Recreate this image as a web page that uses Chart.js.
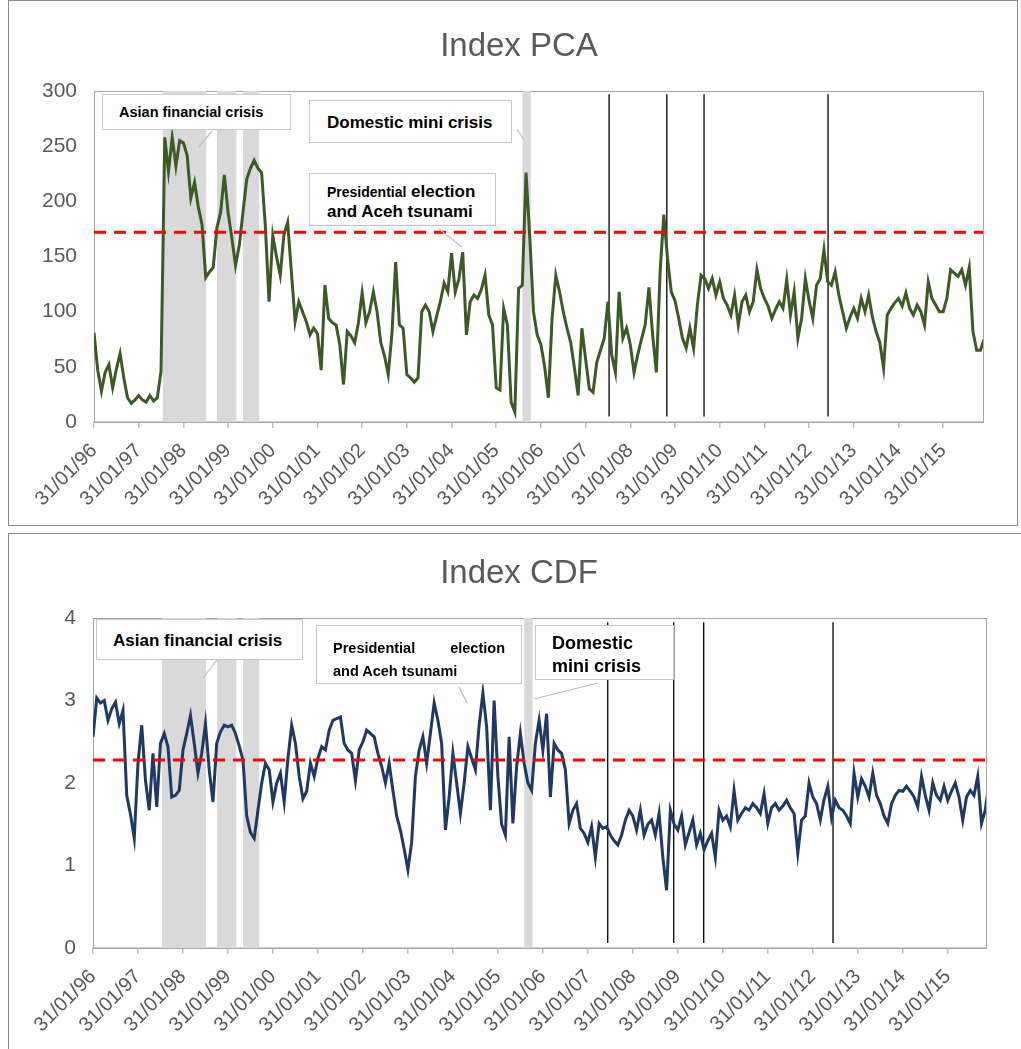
<!DOCTYPE html>
<html>
<head>
<meta charset="utf-8">
<script src="https://cdn.jsdelivr.net/npm/chart.js@4.4.1/dist/chart.umd.min.js"></script>
<style>
  body { margin: 0; background: #fff; font-family: "Liberation Sans", Arial, sans-serif; }
  #page { position: relative; width: 1021px; height: 1049px; overflow: hidden; }
  .panel { position: absolute; border: 1px solid #8c8c8c; box-sizing: border-box; }
  canvas { position: absolute; left: 0; }
  .title { position: absolute; left: 319px; width: 400px; text-align: center; font-size: 33px;
           color: #595959; line-height: 40px; }
  .note { position: absolute; background: #fff; border: 1.5px solid #c8c8c8; box-sizing: border-box;
          font-weight: bold; color: #000; line-height: 1; white-space: nowrap; }
  .note span.small { font-size: 14px; }
  #leaders { position: absolute; left: 0; top: 0; }
</style>
</head>
<body>
<div id="page">
  <div class="panel" style="left:8px; top:0; width:1010px; height:526px;"></div>
  <div class="panel" style="left:8px; top:533px; width:1030px; height:530px;"></div>

  <canvas id="pca" width="1021" height="525" style="top:0;"></canvas>
  <canvas id="cdf" width="1021" height="522" style="top:527px;"></canvas>

  <div class="title" style="top:25px;">Index PCA</div>
  <div class="title" style="top:552px;">Index CDF</div>

  <svg id="leaders" width="1021" height="1049">
    <g stroke="#bfbfbf" stroke-width="1.2">
      <line x1="212" y1="131" x2="199" y2="147"/>
      <line x1="517" y1="129" x2="524" y2="140"/>
      <line x1="439" y1="229" x2="462" y2="247"/>
      <line x1="217" y1="660" x2="203" y2="678"/>
      <line x1="459" y1="687" x2="467" y2="703"/>
      <line x1="598" y1="683" x2="534" y2="699"/>
    </g>
  </svg>

  <!-- top panel notes -->
  <div class="note" style="left:102px; top:94px; width:189px; height:36px; font-size:14.5px; padding:10px 0 0 16px;">Asian financial crisis</div>
  <div class="note" style="left:309px; top:100px; width:203px; height:43px; font-size:17px; padding:13px 0 0 17px;">Domestic mini crisis</div>
  <div class="note" style="left:309px; top:173px; width:187px; height:53px; font-size:17px; padding:8px 0 0 17px; line-height:20px;"><span class="small">Presidential</span> election<br>and Aceh tsunami</div>

  <!-- bottom panel notes -->
  <div class="note" style="left:96px; top:619px; width:207px; height:41px; font-size:17px; padding:12px 0 0 16px;">Asian financial crisis</div>
  <div class="note" style="left:316px; top:625px; width:206px; height:59px; font-size:14.5px; padding:11px 16px 0 16px; line-height:23px;"><div style="display:flex; justify-content:space-between;"><span>Presidential</span><span>election</span></div>and Aceh tsunami</div>
  <div class="note" style="left:535px; top:625px; width:139px; height:55px; font-size:18px; padding:6px 0 0 16px; line-height:23px;">Domestic<br>mini crisis</div>
</div>

<script>
// x positions are months counted from January 1996
const tickMonths = [0, 12, 24, 36, 48, 60, 72, 84, 96, 108, 120, 132, 144, 156, 168, 180, 192, 204, 216, 228];
const tickLabels = ['31/01/96', '31/01/97', '31/01/98', '31/01/99', '31/01/00', '31/01/01', '31/01/02',
                    '31/01/03', '31/01/04', '31/01/05', '31/01/06', '31/01/07', '31/01/08', '31/01/09',
                    '31/01/10', '31/01/11', '31/01/12', '31/01/13', '31/01/14', '31/01/15'];

// Index PCA, monthly, one row per year 1996..2015
const pcaValues = [
  81, 47, 28, 45, 52, 31, 48, 62, 40, 22, 17, 20,
  24, 20, 18, 24, 19, 22, 46, 258, 227, 258, 232, 255,
  253, 242, 203, 217, 195, 179, 131, 136, 140, 176, 190, 224,
  190, 167, 142, 160, 190, 220, 230, 237, 230, 226, 178, 109,
  169, 150, 133, 170, 181, 136, 91, 109, 100, 91, 79, 85,
  80, 47, 124, 94, 90, 88, 70, 34, 82, 78, 72, 90,
  117, 90, 100, 118, 100, 72, 60, 43, 80, 145, 88, 85,
  43, 40, 36, 40, 100, 106, 100, 82, 96, 109, 126, 118,
  153, 118, 130, 154, 79, 109, 115, 112, 120, 133, 97, 88,
  31, 29, 103, 88, 18, 9, 121, 124, 226, 168, 100, 79,
  70, 50, 22, 94, 133, 118, 100, 85, 72, 49, 24, 85,
  57, 30, 27, 54, 65, 76, 109, 61, 45, 118, 76, 85,
  70, 45, 61, 75, 88, 122, 79, 45, 136, 188, 148, 118,
  110, 94, 76, 67, 85, 67, 106, 133, 130, 121, 130, 115,
  127, 112, 106, 97, 115, 88, 109, 115, 100, 109, 138, 121,
  112, 105, 94, 102, 109, 103, 129, 97, 118, 76, 94, 130,
  110, 94, 124, 130, 156, 127, 124, 136, 115, 100, 85, 95,
  103, 94, 112, 100, 115, 95, 82, 72, 49, 97, 103, 108,
  112, 105, 117, 103, 97, 106, 100, 88, 127, 112, 106, 100,
  100, 112, 138, 135, 132, 138, 124, 140, 82, 65, 65, 75
];

// Index CDF, monthly, one row per year 1996..2015
const cdfValues = [
  2.56, 3.03, 2.97, 3.0, 2.76, 2.9, 2.98, 2.72, 2.88, 1.85, 1.62, 1.33,
  2.24, 2.7, 2.03, 1.67, 2.36, 1.71, 2.48, 2.6, 2.44, 1.83, 1.85, 1.91,
  2.4, 2.6, 2.82, 2.48, 2.12, 2.36, 2.72, 2.16, 1.77, 2.48, 2.62, 2.7,
  2.68, 2.7, 2.6, 2.45, 2.28, 1.6, 1.4, 1.33, 1.67, 2.0, 2.24, 2.16,
  1.77, 2.0, 2.12, 1.77, 2.3, 2.7, 2.48, 2.08, 1.81, 1.9, 2.24, 2.08,
  2.3, 2.44, 2.4, 2.64, 2.76, 2.78, 2.8, 2.48, 2.4, 2.36, 2.03, 2.4,
  2.5, 2.64, 2.6, 2.56, 2.36, 2.2, 2.0, 2.24, 1.91, 1.6, 1.43, 1.2,
  0.95, 1.28, 2.08, 2.4, 2.56, 2.24, 2.6, 2.97, 2.76, 2.48, 1.43, 1.83,
  2.36, 2.0, 1.63, 2.0, 2.44, 2.3, 2.16, 2.7, 3.09, 2.68, 1.67, 3.0,
  2.08, 1.5, 1.37, 2.56, 1.51, 2.2, 2.6, 2.24, 2.0, 1.91, 2.48, 2.76,
  2.4, 2.84, 1.83, 2.48, 2.4, 2.36, 2.16, 1.51, 1.67, 1.75, 1.45, 1.39,
  1.28, 1.47, 1.1, 1.51, 1.45, 1.47, 1.37, 1.3, 1.25, 1.37, 1.55, 1.67,
  1.6, 1.43, 1.67, 1.37, 1.5, 1.55, 1.37, 1.63, 1.1, 0.7, 1.67, 1.5,
  1.43, 1.6, 1.25, 1.4, 1.55, 1.25, 1.39, 1.19, 1.3, 1.39, 1.1, 1.67,
  1.55, 1.6, 1.47, 1.91, 1.55, 1.63, 1.7, 1.67, 1.75, 1.7, 1.63, 1.87,
  1.51, 1.7, 1.75, 1.67, 1.72, 1.79, 1.7, 1.63, 1.15, 1.55, 1.6, 2.0,
  1.83, 1.75, 1.55, 1.8, 1.96, 1.58, 1.79, 1.7, 1.67, 1.6, 1.51, 2.12,
  1.83, 2.05, 1.96, 1.83, 2.12, 1.85, 1.75, 1.6, 1.51, 1.75, 1.85, 1.91,
  1.9, 1.96, 1.9, 1.83, 1.71, 2.08, 1.85, 1.67, 2.0, 1.85, 1.79, 1.96,
  1.79, 1.9, 2.0, 1.83, 1.55, 1.83, 1.91, 1.85, 2.08, 1.51, 1.67, 2.0
];

const pcaThreshold = 172;
const cdfThreshold = 2.28;

// shaded crisis periods (start month, end month)
const crisisBands = [[18.4, 30.2], [33, 38.3], [40, 44.4], [115, 117.3]];

// vertical event markers
const pcaEventMonths = [138.3, 153.8, 163.8, 197.1];
const cdfEventMonths = [137.3, 154.9, 162.9, 197.4];

const FONT = '"Liberation Sans", Arial, sans-serif';

const plotFrame = {
  id: 'plotFrame',
  beforeDatasetsDraw(chart) {
    const { ctx, chartArea: a } = chart;
    ctx.save();
    ctx.strokeStyle = '#a6a6a6';
    ctx.lineWidth = 1;
    ctx.strokeRect(Math.round(a.left) + 0.5, Math.round(a.top) + 0.5,
                   Math.round(a.right - a.left), Math.round(a.bottom - a.top));
    ctx.restore();
  }
};

function buildChart(id, cfg) {
  const datasets = [];

  datasets.push({
    data: cfg.values.map((v, i) => ({ x: i, y: v })),
    borderColor: cfg.color,
    borderWidth: 3,
    pointRadius: 0,
    order: 1
  });

  datasets.push({
    data: [{ x: 0, y: cfg.threshold }, { x: cfg.xMax, y: cfg.threshold }],
    borderColor: '#ff0000',
    borderDash: [12, 8],
    borderWidth: 3,
    pointRadius: 0,
    order: 0
  });

  cfg.events.forEach(m => {
    datasets.push({
      data: [{ x: m, y: cfg.lineLow }, { x: m, y: cfg.lineHigh }],
      borderColor: '#000',
      borderWidth: 1.3,
      pointRadius: 0,
      order: 2
    });
  });

  crisisBands.forEach(b => {
    datasets.push({
      data: [{ x: b[0], y: cfg.max }, { x: b[1], y: cfg.max }],
      fill: 'origin',
      backgroundColor: '#d9d9d9',
      borderWidth: 0,
      pointRadius: 0,
      order: 5
    });
  });

  return new Chart(document.getElementById(id), {
    type: 'line',
    data: { datasets },
    plugins: [plotFrame],
    options: {
      responsive: false,
      animation: false,
      layout: { padding: { left: 0, right: cfg.padRight, top: 91, bottom: 0 } },
      plugins: {
        legend: { display: false },
        tooltip: { enabled: false },
        title: { display: false }
      },
      scales: {
        x: {
          type: 'linear',
          min: 0,
          max: cfg.xMax,
          afterFit(scale) { scale.height = cfg.xAxisHeight; },
          afterBuildTicks(scale) { scale.ticks = tickMonths.map(v => ({ value: v })); },
          ticks: {
            autoSkip: false,
            minRotation: 45,
            maxRotation: 45,
            padding: 11,
            color: '#595959',
            font: { family: FONT, size: 20 },
            callback: (value, index) => tickLabels[index]
          },
          grid: { drawOnChartArea: false, drawTicks: true, tickLength: 6, color: '#bfbfbf', lineWidth: 1.5 },
          border: { display: true, color: '#d0d0d0', width: 2 }
        },
        y: {
          min: 0,
          max: cfg.max,
          afterFit(scale) { scale.width = cfg.yAxisWidth; },
          ticks: {
            stepSize: cfg.step,
            padding: 17,
            color: '#595959',
            font: { family: FONT, size: 21 }
          },
          grid: { display: false, drawTicks: false },
          border: { display: false }
        }
      }
    }
  });
}

buildChart('pca', {
  values: pcaValues,
  color: '#3b5a26',
  threshold: pcaThreshold,
  events: pcaEventMonths,
  lineLow: 5,
  lineHigh: 297,
  max: 300,
  step: 50,
  xMax: 238.7,
  yAxisWidth: 94,
  xAxisHeight: 103,
  padRight: 38
});

buildChart('cdf', {
  values: cdfValues,
  color: '#1f3864',
  threshold: cdfThreshold,
  events: cdfEventMonths,
  lineLow: 0.06,
  lineHigh: 3.95,
  max: 4,
  step: 1,
  xMax: 238.2,
  yAxisWidth: 93,
  xAxisHeight: 101,
  padRight: 35
});
</script>
</body>
</html>
